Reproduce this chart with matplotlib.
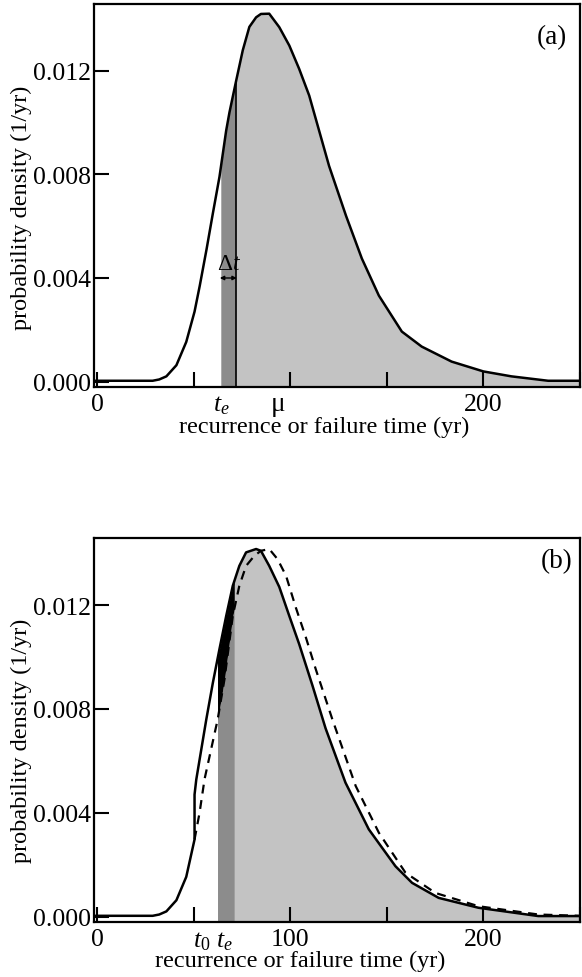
import numpy as np
import matplotlib
matplotlib.use('Agg')
import matplotlib.pyplot as plt
from matplotlib.transforms import blended_transform_factory

plt.rcParams['font.family'] = ['Liberation Serif', 'DejaVu Serif']
plt.rcParams['mathtext.fontset'] = 'custom'
plt.rcParams['mathtext.rm'] = 'Liberation Serif'
plt.rcParams['mathtext.it'] = 'Liberation Serif:italic'

# ---------------- data ----------------
time_a = [-1.8, 28.6, 32.0, 35.7, 40.9, 46.0, 50.3, 53.0, 56.5, 59.8, 63.2, 66.7,
          68.4, 71.8, 75.3, 78.7, 82.2, 84.7, 89.0, 94.2, 99.4, 104.5, 109.7,
          120.0, 128.8, 137.0, 145.8, 157.7, 168.0, 183.5, 200.0, 214.5, 233.5, 250.0]
dens_a = [0.00003, 0.00003, 0.00008, 0.0002, 0.00063, 0.00153, 0.0027, 0.0037, 0.0051,
          0.0065, 0.0079, 0.0097, 0.0104, 0.0116, 0.0128, 0.0137, 0.01407, 0.0142,
          0.01421, 0.01369, 0.01298, 0.01208, 0.01105, 0.00833, 0.0064, 0.00475,
          0.00332, 0.00193, 0.00135, 0.00077, 0.00039, 0.0002, 0.00003, 0.00003]

time_b_solid = [-1.8, 28.6, 32.0, 35.7, 40.9, 46.0, 50.3, 50.3, 51.2, 56.4, 59.8, 63.2,
                66.7, 70.1, 73.5, 77.0, 82.2, 84.7, 89.0, 94.2, 99.4, 104.5, 111.4,
                118.2, 128.5, 140.6, 154.4, 163.0, 176.8, 197.4, 228.4, 250.0]
dens_b_solid = [0.00003, 0.00003, 0.00008, 0.0002, 0.00063, 0.00153, 0.00297, 0.0047,
                0.00528, 0.0076, 0.00901, 0.0103, 0.01158, 0.01274, 0.01351, 0.01403,
                0.01416, 0.01409, 0.01351, 0.0127, 0.01158, 0.0105, 0.0089, 0.00725,
                0.00516, 0.00336, 0.00194, 0.0013, 0.00072, 0.00034, 0.00002, 0.00002]

time_b_dash = [50.3, 52.9, 55.5, 62.3, 65.8, 70.1, 73.5, 77.0, 81.3, 84.7, 89.0, 93.3,
               97.7, 102.8, 108.0, 113.1, 121.7, 133.8, 145.8, 159.6, 175.1, 197.4,
               228.4, 250.0]
dens_b_dash = [0.00297, 0.004, 0.0053, 0.0076, 0.00914, 0.01158, 0.01274, 0.01351,
               0.0139, 0.01409, 0.01416, 0.01377, 0.01313, 0.0119, 0.01075, 0.00953,
               0.0076, 0.00503, 0.00323, 0.00169, 0.00091, 0.0004, 0.00008, 0.00003]

te_a, te_a_end = 63.9, 71.7
te_b, te_b_end = 62.2, 70.9
t0_label_pos = 54.0
te_b_label_pos = 66.0
te_a_label_pos = 64.3
mu_label_pos = 93.7

xticks = [0, 50, 100, 150, 200, 250]
xtick_labels_a = ['0', '', '', '', '200', '']
xtick_labels_b = ['0', '', '100', '', '200', '']
yticks = [0.0, 0.004, 0.008, 0.012]
ytick_labels = ['0.000', '0.004', '0.008', '0.012']

# ---------------- styling ----------------
FS = 17.5
FS_TICK = 18.5
LIGHT = '#c3c3c3'
DARK = '#8c8c8c'
XLIM = (-1.8, 250)
YLIM = (-0.00021, 0.014585)

fig = plt.figure(figsize=(5.82, 9.78), dpi=100)
ax1 = fig.add_axes([0.1615, 0.6033, 0.835, 0.3916])
ax2 = fig.add_axes([0.1615, 0.0562, 0.835, 0.3927])


def style(ax, xlabels):
    ax.set_xlim(*XLIM)
    ax.set_ylim(*YLIM)
    ax.set_xticks(xticks)
    ax.set_xticklabels(xlabels, fontsize=FS_TICK)
    ax.set_yticks(yticks)
    ax.set_yticklabels(ytick_labels, fontsize=FS_TICK)
    ax.tick_params(direction='in', length=11, width=1.5, pad=2.5)
    ax.tick_params(axis='x', pad=4)
    for s in ax.spines.values():
        s.set_linewidth(1.6)
    ax.set_ylabel('probability density (1/yr)', fontsize=FS)
    ax.set_xlabel('recurrence or failure time (yr)', fontsize=FS)


# ---------------- panel (a) ----------------
g_light = np.linspace(te_a_end, XLIM[1], 500)
ax1.fill_between(g_light, -0.001, np.interp(g_light, time_a, dens_a),
                 color=LIGHT, lw=0, zorder=1)
g_dark = np.linspace(te_a, te_a_end, 100)
ax1.fill_between(g_dark, -0.001, np.interp(g_dark, time_a, dens_a),
                 color=DARK, lw=0, zorder=1)
ax1.plot(time_a, dens_a, color='black', lw=1.8, zorder=3, solid_joinstyle='round')
ax1.plot([te_a_end, te_a_end], [-0.001, np.interp(te_a_end, time_a, dens_a)],
         color='black', lw=1.2, zorder=2)
ax1.annotate('', xy=(te_a - 0.5, 0.004), xytext=(te_a_end + 0.5, 0.004),
             arrowprops=dict(arrowstyle='<|-|>', lw=1.0, color='black',
                             mutation_scale=6, shrinkA=0, shrinkB=0), zorder=4)
ax1.text((te_a + te_a_end) / 2 + 0.3, 0.00415, r'$\Delta t$', fontsize=FS - 0.5,
         ha='center', va='bottom', zorder=4)
style(ax1, xtick_labels_a)
tr1 = blended_transform_factory(ax1.transData, ax1.transAxes)
ax1.text(te_a_label_pos, -0.018, r'$t_e$', transform=tr1, ha='center', va='top',
         fontsize=FS_TICK)
ax1.text(mu_label_pos, -0.01, 'μ', transform=tr1, ha='center', va='top',
         fontsize=FS + 2)
ax1.text(0.9726, 0.915, '(a)', transform=ax1.transAxes, ha='right', va='center',
         fontsize=19.5)
ax1.yaxis.set_label_coords(-0.128, 0.47)
ax1.xaxis.set_label_coords(0.474, -0.075)

# ---------------- panel (b) ----------------
g_light = np.linspace(te_b_end, XLIM[1], 500)
ax2.fill_between(g_light, -0.001, np.interp(g_light, time_b_solid, dens_b_solid),
                 color=LIGHT, lw=0, zorder=1)
g_dark = np.linspace(te_b, te_b_end, 100)
dash_band = np.interp(g_dark, time_b_dash, dens_b_dash)
solid_band = np.interp(g_dark, time_b_solid, dens_b_solid)
ax2.fill_between(g_dark, -0.001, dash_band, color=DARK, lw=0, zorder=1)
ax2.fill_between(g_dark, dash_band, solid_band, color='black', lw=0, zorder=1)
ax2.plot(time_b_solid, dens_b_solid, color='black', lw=1.8, zorder=3,
         solid_joinstyle='round')
ax2.plot(time_b_dash, dens_b_dash, color='black', lw=1.6, ls=(0, (4, 3)), zorder=3)
style(ax2, xtick_labels_b)
tr2 = blended_transform_factory(ax2.transData, ax2.transAxes)
ax2.text(t0_label_pos, -0.018, r'$t_{\mathit{0}}$', transform=tr2, ha='center',
         va='top', fontsize=FS_TICK)
ax2.text(te_b_label_pos, -0.018, r'$t_e$', transform=tr2, ha='center', va='top',
         fontsize=FS_TICK)
ax2.text(0.9856, 0.940, '(b)', transform=ax2.transAxes, ha='right', va='center',
         fontsize=19.5)
ax2.yaxis.set_label_coords(-0.128, 0.474)
ax2.xaxis.set_label_coords(0.424, -0.072)

fig.savefig('out.png', dpi=100)
